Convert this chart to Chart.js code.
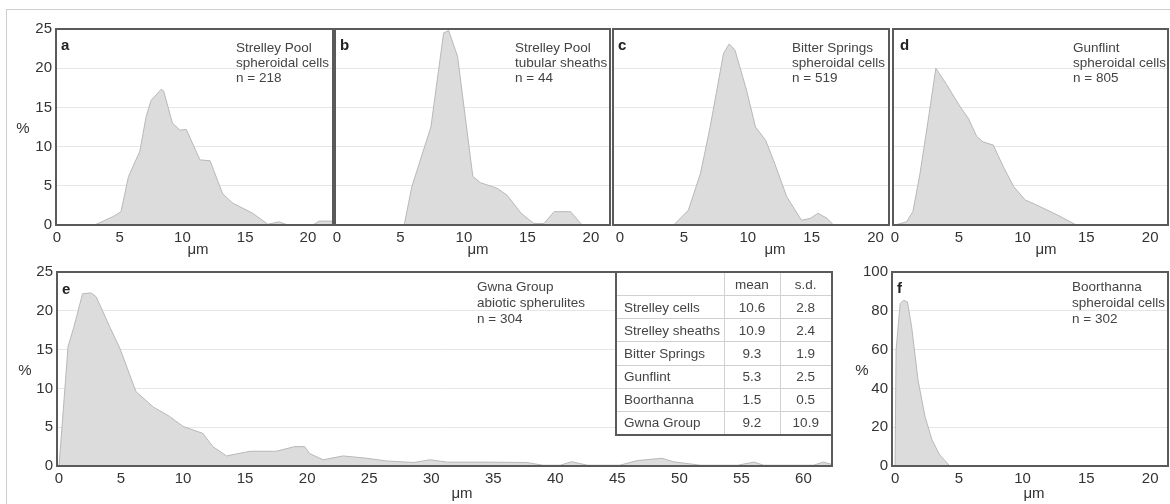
<!DOCTYPE html>
<html>
<head>
<meta charset="utf-8">
<script src="https://cdn.jsdelivr.net/npm/chart.js@4.4.0/dist/chart.umd.min.js"></script>
<style>
  html, body { margin: 0; padding: 0; background: #fff; }
  #wrap { position: relative; width: 1170px; height: 504px; overflow: hidden;
          font-family: 'Liberation Sans', Arial, sans-serif; color: #333; }
  #wrap canvas { position: absolute; }
  .txt { position: absolute; white-space: nowrap; }
  .note { font-size: 13.5px; color: #444; }
  .letter { font-size: 15px; font-weight: bold; color: #222; line-height: 18px; }
  .axlab { font-size: 15px; text-align: center; width: 40px; line-height: 18px; color: #333; }
  #stats { position: absolute; left: 615px; top: 271px; width: 216px; height: 165px;
           border-collapse: collapse; table-layout: fixed; background: #fff; border: 2px solid #5a5a5a;
           font-size: 13.5px; color: #444; z-index: 5; }
  #stats td { border: 1px solid #d0d0d0; padding: 0 0 0 7px; height: 22px; white-space: nowrap; overflow: hidden; }
  #stats td.num { text-align: center; padding: 0; }
  .frameTop { position: absolute; left: 6px; top: 9px; width: 1164px; height: 1px; background: #cfcfcf; }
  .frameLeft { position: absolute; left: 6px; top: 9px; width: 1px; height: 495px; background: #cfcfcf; }
</style>
</head>
<body>
<div id="wrap">
  <div class="frameTop"></div>
  <div class="frameLeft"></div>
</div>
<script>
// size distributions (x in µm, y in %)
const aX = [3, 4.5, 5.1, 5.7, 6.6, 7.1, 7.5, 8.3, 8.5, 9.2, 9.8, 10.3, 11.4, 12.2, 13.2, 14, 15.6, 16.8, 17.7, 18.4, 20.4, 20.9, 21.7, 22];
const aY = [0, 1.1, 1.7, 6.2, 9.4, 13.8, 15.9, 17.3, 17.1, 13, 12.1, 12.2, 8.3, 8.2, 4.0, 2.8, 1.5, 0.1, 0.4, 0, 0, 0.5, 0.5, 0.5];

const bX = [5.3, 5.9, 7.4, 8.4, 8.8, 9.5, 10.7, 11.3, 12.6, 13.4, 14.5, 15.5, 16.3, 17.1, 18.4, 19.3];
const bY = [0, 4.9, 12.5, 24.5, 24.8, 21.5, 6.2, 5.4, 4.7, 3.8, 1.5, 0.2, 0.2, 1.7, 1.7, 0];

const cX = [4.2, 5.35, 6.3, 7.05, 8.1, 8.55, 9.0, 9.9, 10.6, 11.4, 12.0, 13.05, 14.2, 14.9, 15.5, 16.2, 16.7];
const cY = [0, 1.9, 6.6, 12.5, 21.9, 23.1, 22.3, 17.2, 12.5, 10.8, 8.3, 3.6, 0.6, 0.85, 1.5, 0.85, 0];

const dX = [0, 0.9, 1.4, 1.96, 2.6, 3.2, 4.05, 5.1, 5.75, 6.4, 6.9, 7.7, 8.5, 9.3, 10.2, 11.1, 12.7, 14.1];
const dY = [0, 0.4, 1.7, 6.6, 13.4, 20, 17.9, 15.1, 13.6, 11.3, 10.6, 10.2, 7.4, 4.9, 3.2, 2.55, 1.3, 0.1];

const eX = [0, 0.1, 0.73, 1.2, 1.9, 2.6, 3.0, 4.1, 4.9, 6.2, 7.6, 8.9, 10.0, 11.6, 12.4, 13.5, 15.4, 17.5, 19.0, 19.8, 20.2, 21.3, 22.9, 24.8, 26.4, 28.6, 29.9, 31.3, 34.5, 37.7, 39.0, 40.4, 41.3, 42.6, 45.2, 46.6, 48.6, 49.5, 51.7, 54.7, 56, 56.8, 60.8, 61.6, 62.3];
const eY = [0, 2, 15.4, 17.9, 22.2, 22.3, 21.8, 17.9, 15.2, 9.6, 7.6, 6.4, 5.1, 4.2, 2.5, 1.3, 1.9, 1.9, 2.5, 2.5, 1.6, 0.8, 1.3, 1.0, 0.65, 0.45, 0.8, 0.5, 0.5, 0.45, 0.1, 0.1, 0.55, 0.1, 0.1, 0.7, 1.0, 0.55, 0.1, 0.1, 0.5, 0.1, 0.1, 0.5, 0.2];

const fX = [0, 0.08, 0.4, 0.65, 0.97, 1.3, 1.8, 2.35, 2.9, 3.5, 4.3];
const fY = [0, 59.7, 83.7, 85.4, 84.6, 71.7, 44.3, 25.4, 13.4, 5.7, 0];

// tick labels
const xTicksShort = [0, 5, 10, 15, 20];
const xTicksLong = [0, 5, 10, 15, 20, 25, 30, 35, 40, 45, 50, 55, 60];
const yTicksPct = [0, 5, 10, 15, 20, 25];
const yTicksF = [0, 20, 40, 60, 80, 100];

// summary table
const statNames = ['Strelley cells', 'Strelley sheaths', 'Bitter Springs', 'Gunflint', 'Boorthanna', 'Gwna Group'];
const statMean = ['10.6', '10.9', '9.3', '5.3', '1.5', '9.2'];
const statSD = ['2.8', '2.4', '1.9', '2.5', '0.5', '10.9'];

const wrap = document.getElementById('wrap');
const FONT = "'Liberation Sans', Arial, sans-serif";

const framePlugin = {
    id: 'frame',
    afterDraw(chart) {
        const { ctx, chartArea: a } = chart;
        ctx.save();
        ctx.strokeStyle = '#5a5a5a';
        ctx.lineWidth = 2;
        ctx.strokeRect(a.left, a.top, a.right - a.left, a.bottom - a.top);
        ctx.restore();
    }
};

function makePanel(g, xs, ys, xTicks, yTicks) {
    const yW = g.showY ? 44 : 10;
    const padTop = 12, padRight = 4, xH = 24;
    const canvas = document.createElement('canvas');
    const w = (g.right - g.left) + yW + padRight;
    const h = (g.bottom - g.top) + padTop + xH;
    canvas.width = w;
    canvas.height = h;
    canvas.style.left = (g.left - yW) + 'px';
    canvas.style.top = (g.top - padTop) + 'px';
    canvas.style.width = w + 'px';
    canvas.style.height = h + 'px';
    wrap.appendChild(canvas);

    new Chart(canvas, {
        type: 'line',
        data: {
            datasets: [{
                data: xs.map((x, i) => ({ x: x, y: ys[i] })),
                backgroundColor: '#dcdcdc',
                borderColor: '#b8b8b8',
                borderWidth: 1,
                pointRadius: 0,
                tension: 0,
                fill: 'origin'
            }]
        },
        options: {
            responsive: false,
            animation: false,
            events: [],
            layout: { padding: { top: padTop, right: padRight, left: 0, bottom: 0 } },
            plugins: { legend: { display: false }, tooltip: { enabled: false } },
            scales: {
                x: {
                    type: 'linear',
                    min: g.xMin,
                    max: g.xMax,
                    grid: { display: false, drawTicks: false },
                    border: { display: false },
                    ticks: { padding: 4, color: '#333', font: { family: FONT, size: 15 }, maxRotation: 0 },
                    afterBuildTicks: s => { s.ticks = xTicks.map(v => ({ value: v })); },
                    afterFit: s => { s.height = xH; s.paddingLeft = 0; s.paddingRight = 0; }
                },
                y: {
                    min: 0,
                    max: yTicks[yTicks.length - 1],
                    grid: { color: '#e6e6e6', lineWidth: 1, drawTicks: false },
                    border: { display: false },
                    ticks: { display: g.showY, padding: 4, color: '#333', font: { family: FONT, size: 15 } },
                    afterBuildTicks: s => { s.ticks = yTicks.map(v => ({ value: v })); },
                    afterFit: s => { s.width = yW; s.paddingTop = 0; s.paddingBottom = 0; }
                }
            }
        },
        plugins: [framePlugin]
    });
}

makePanel({ left: 56, right: 333, top: 29, bottom: 225, xMin: -0.08, xMax: 22.0, showY: true }, aX, aY, xTicksShort, yTicksPct);
makePanel({ left: 335, right: 610, top: 29, bottom: 225, xMin: -0.15, xMax: 21.5, showY: false }, bX, bY, xTicksShort, yTicksPct);
makePanel({ left: 613, right: 889, top: 29, bottom: 225, xMin: -0.55, xMax: 21.05, showY: false }, cX, cY, xTicksShort, yTicksPct);
makePanel({ left: 893, right: 1168, top: 29, bottom: 225, xMin: -0.16, xMax: 21.4, showY: false }, dX, dY, xTicksShort, yTicksPct);
makePanel({ left: 57, right: 832, top: 272, bottom: 466, xMin: -0.16, xMax: 62.3, showY: true }, eX, eY, xTicksLong, yTicksPct);
makePanel({ left: 892, right: 1168, top: 272, bottom: 466, xMin: -0.24, xMax: 21.4, showY: true }, fX, fY, xTicksShort, yTicksF);

function addText(cls, html, left, top, extra) {
    const d = document.createElement('div');
    d.className = 'txt ' + cls;
    d.innerHTML = html;
    d.style.left = left + 'px';
    d.style.top = top + 'px';
    if (extra) Object.assign(d.style, extra);
    wrap.appendChild(d);
}

// panel letters
addText('letter', 'a', 61, 36);
addText('letter', 'b', 340, 36);
addText('letter', 'c', 618, 36);
addText('letter', 'd', 900, 36);
addText('letter', 'e', 62, 280);
addText('letter', 'f', 897, 279);

// panel notes
addText('note', 'Strelley Pool<br>spheroidal cells<br>n = 218', 236, 39.5, { lineHeight: '15px' });
addText('note', 'Strelley Pool<br>tubular sheaths<br>n = 44', 515, 39.5, { lineHeight: '15px' });
addText('note', 'Bitter Springs<br>spheroidal cells<br>n = 519', 792, 39.5, { lineHeight: '15px' });
addText('note', 'Gunflint<br>spheroidal cells<br>n = 805', 1073, 39.5, { lineHeight: '15px' });
addText('note', 'Gwna Group<br>abiotic spherulites<br>n = 304', 477, 279, { lineHeight: '16px' });
addText('note', 'Boorthanna<br>spheroidal cells<br>n = 302', 1072, 279, { lineHeight: '16px' });

// axis labels
addText('axlab', '%', 3, 119);
addText('axlab', '%', 5, 361);
addText('axlab', '%', 842, 361);
[[198, 240], [478, 240], [775, 240], [1046, 240], [462, 484], [1034, 484]].forEach(p => {
    addText('axlab', 'μm', p[0] - 20, p[1]);
});

// stats table
const tbl = document.createElement('table');
tbl.id = 'stats';
let rows = '<colgroup><col style="width:108px"><col style="width:56px"><col style="width:52px"></colgroup>';
rows += '<tr><td></td><td class="num">mean</td><td class="num">s.d.</td></tr>';
statNames.forEach((n, i) => {
    rows += '<tr><td>' + n + '</td><td class="num">' + statMean[i] + '</td><td class="num">' + statSD[i] + '</td></tr>';
});
tbl.innerHTML = rows;
wrap.appendChild(tbl);
</script>
</body>
</html>
